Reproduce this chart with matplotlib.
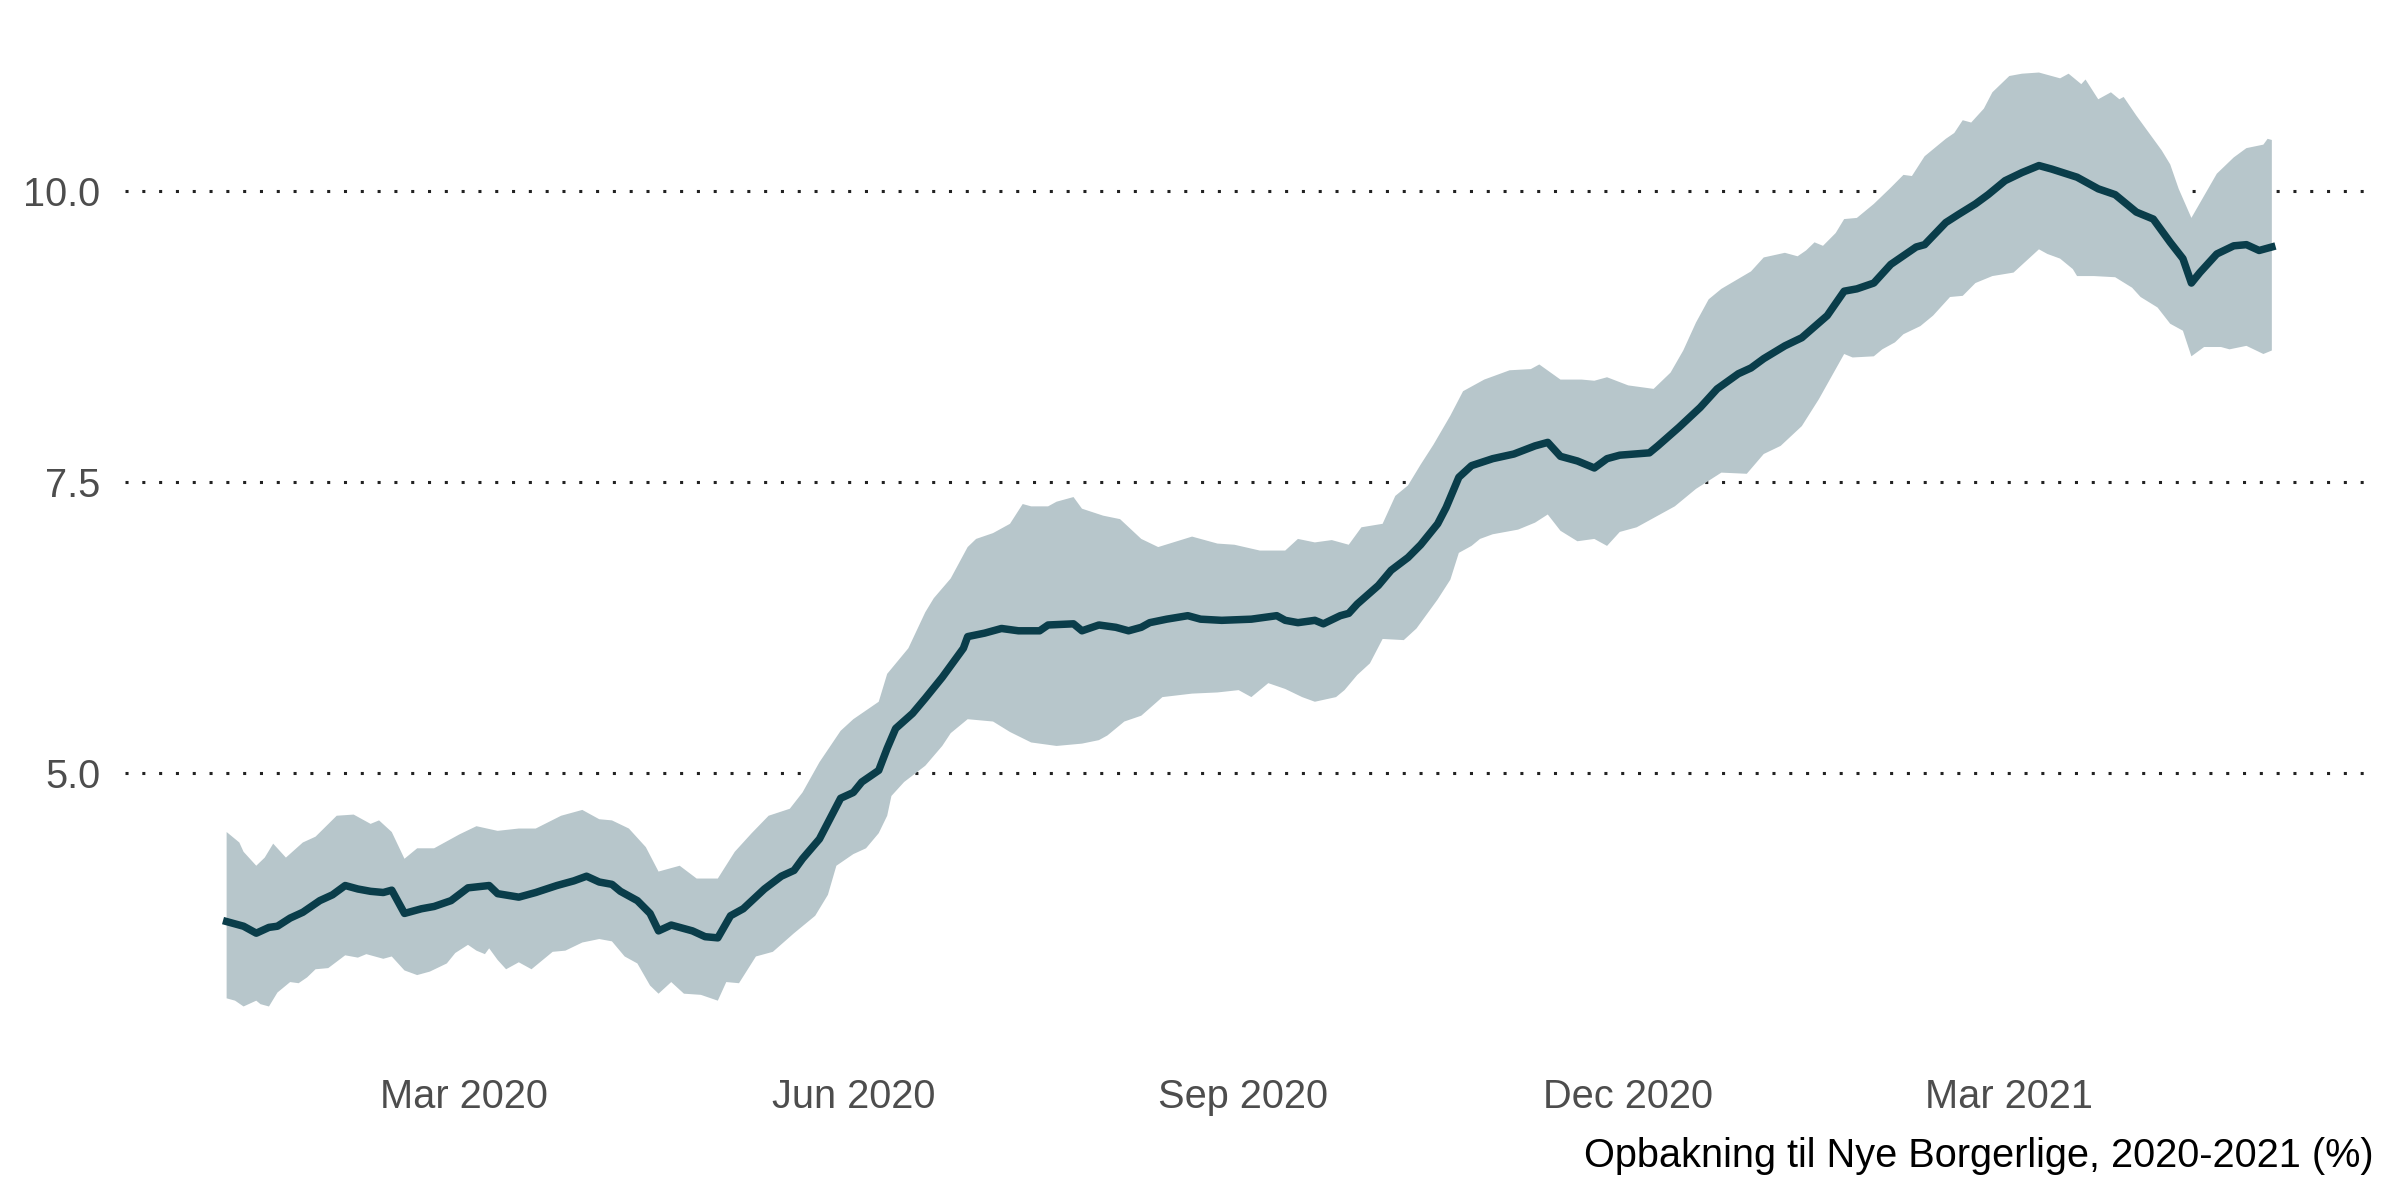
import numpy as np
import pandas as pd
import matplotlib
matplotlib.use("Agg")
import matplotlib.pyplot as plt
import matplotlib.dates as mdates

# mean support (%)
mean_dates = [
    "2020-01-05", "2020-01-09", "2020-01-12", "2020-01-15", "2020-01-17", "2020-01-20",
    "2020-01-23", "2020-01-27", "2020-01-30", "2020-02-02", "2020-02-05", "2020-02-08",
    "2020-02-11", "2020-02-13", "2020-02-16", "2020-02-20", "2020-02-23", "2020-02-27",
    "2020-03-02", "2020-03-07", "2020-03-09", "2020-03-14", "2020-03-18", "2020-03-23",
    "2020-03-27", "2020-03-30", "2020-04-02", "2020-04-05", "2020-04-07", "2020-04-11",
    "2020-04-14", "2020-04-16", "2020-04-19", "2020-04-24", "2020-04-27", "2020-04-30",
    "2020-05-03", "2020-05-06", "2020-05-11", "2020-05-15", "2020-05-18", "2020-05-20",
    "2020-05-24", "2020-05-29", "2020-06-01", "2020-06-03", "2020-06-07", "2020-06-09",
    "2020-06-11", "2020-06-15", "2020-06-18", "2020-06-22", "2020-06-24", "2020-06-27",
    "2020-06-28", "2020-07-02", "2020-07-06", "2020-07-10", "2020-07-15", "2020-07-17",
    "2020-07-23", "2020-07-25", "2020-07-29", "2020-08-02", "2020-08-05", "2020-08-08",
    "2020-08-10", "2020-08-14", "2020-08-19", "2020-08-22", "2020-08-27", "2020-09-03",
    "2020-09-09", "2020-09-11", "2020-09-14", "2020-09-18", "2020-09-20", "2020-09-24",
    "2020-09-26", "2020-09-28", "2020-10-03", "2020-10-06", "2020-10-10", "2020-10-13",
    "2020-10-17", "2020-10-19", "2020-10-22", "2020-10-25", "2020-10-30", "2020-11-04",
    "2020-11-09", "2020-11-12", "2020-11-15", "2020-11-19", "2020-11-23", "2020-11-26",
    "2020-11-29", "2020-12-06", "2020-12-08", "2020-12-13", "2020-12-18", "2020-12-22",
    "2020-12-27", "2020-12-30", "2021-01-02", "2021-01-07", "2021-01-11", "2021-01-17",
    "2021-01-21", "2021-01-24", "2021-01-28", "2021-02-01", "2021-02-07", "2021-02-09",
    "2021-02-14", "2021-02-17", "2021-02-21", "2021-02-24", "2021-02-28", "2021-03-04",
    "2021-03-08", "2021-03-11", "2021-03-17", "2021-03-22", "2021-03-26", "2021-03-31",
    "2021-04-04", "2021-04-08", "2021-04-11", "2021-04-13", "2021-04-15", "2021-04-19",
    "2021-04-23", "2021-04-26", "2021-04-29", "2021-05-02",
]
mean_vals = [
    3.72, 3.68, 3.62, 3.67, 3.68, 3.75,
    3.80, 3.90, 3.95, 4.03, 4.00, 3.98,
    3.97, 3.99, 3.79, 3.83, 3.85, 3.90,
    4.01, 4.03, 3.96, 3.93, 3.97, 4.03,
    4.07, 4.11, 4.06, 4.04, 3.98, 3.90,
    3.79, 3.64, 3.69, 3.64, 3.59, 3.58,
    3.77, 3.83, 4.00, 4.11, 4.16, 4.26,
    4.43, 4.78, 4.83, 4.92, 5.02, 5.21,
    5.38, 5.51, 5.64, 5.82, 5.92, 6.07,
    6.17, 6.20, 6.24, 6.22, 6.22, 6.27,
    6.28, 6.22, 6.27, 6.25, 6.22, 6.25,
    6.29, 6.32, 6.35, 6.32, 6.31, 6.32,
    6.35, 6.31, 6.29, 6.31, 6.28, 6.35,
    6.37, 6.45, 6.61, 6.74, 6.85, 6.96,
    7.14, 7.28, 7.54, 7.64, 7.70, 7.74,
    7.81, 7.84, 7.72, 7.68, 7.62, 7.70,
    7.73, 7.75, 7.81, 7.97, 8.14, 8.30,
    8.43, 8.48, 8.56, 8.67, 8.74, 8.93,
    9.14, 9.16, 9.21, 9.37, 9.52, 9.54,
    9.73, 9.80, 9.89, 9.97, 10.09, 10.16,
    10.22, 10.19, 10.12, 10.02, 9.97, 9.82,
    9.76, 9.56, 9.42, 9.21, 9.30, 9.46,
    9.53, 9.54, 9.49, 9.52,
]

# upper edge of the uncertainty band
upper_dates = [
    "2020-01-05", "2020-01-08", "2020-01-09", "2020-01-12", "2020-01-14", "2020-01-16",
    "2020-01-19", "2020-01-23", "2020-01-26", "2020-01-31", "2020-02-04", "2020-02-08",
    "2020-02-10", "2020-02-13", "2020-02-16", "2020-02-19", "2020-02-23", "2020-02-29",
    "2020-03-04", "2020-03-09", "2020-03-14", "2020-03-18", "2020-03-24", "2020-03-29",
    "2020-04-02", "2020-04-05", "2020-04-09", "2020-04-13", "2020-04-16", "2020-04-21",
    "2020-04-25", "2020-04-30", "2020-05-04", "2020-05-08", "2020-05-12", "2020-05-17",
    "2020-05-20", "2020-05-24", "2020-05-29", "2020-06-01", "2020-06-07", "2020-06-09",
    "2020-06-14", "2020-06-18", "2020-06-20", "2020-06-24", "2020-06-28", "2020-06-30",
    "2020-07-04", "2020-07-08", "2020-07-11", "2020-07-13", "2020-07-17", "2020-07-19",
    "2020-07-23", "2020-07-25", "2020-07-30", "2020-08-03", "2020-08-08", "2020-08-12",
    "2020-08-20", "2020-08-26", "2020-08-30", "2020-09-05", "2020-09-11", "2020-09-14",
    "2020-09-18", "2020-09-22", "2020-09-26", "2020-09-29", "2020-10-04", "2020-10-07",
    "2020-10-10", "2020-10-13", "2020-10-16", "2020-10-20", "2020-10-23", "2020-10-28",
    "2020-11-03", "2020-11-08", "2020-11-10", "2020-11-15", "2020-11-20", "2020-11-23",
    "2020-11-26", "2020-12-01", "2020-12-05", "2020-12-07", "2020-12-11", "2020-12-14",
    "2020-12-17", "2020-12-20", "2020-12-23", "2020-12-30", "2021-01-02", "2021-01-07",
    "2021-01-10", "2021-01-12", "2021-01-14", "2021-01-16", "2021-01-19", "2021-01-21",
    "2021-01-24", "2021-01-28", "2021-02-01", "2021-02-04", "2021-02-06", "2021-02-09",
    "2021-02-14", "2021-02-16", "2021-02-18", "2021-02-20", "2021-02-23", "2021-02-25",
    "2021-03-01", "2021-03-04", "2021-03-08", "2021-03-13", "2021-03-15", "2021-03-18",
    "2021-03-19", "2021-03-22", "2021-03-25", "2021-03-27", "2021-03-28", "2021-03-31",
    "2021-04-02", "2021-04-06", "2021-04-08", "2021-04-10", "2021-04-13", "2021-04-16",
    "2021-04-19", "2021-04-23", "2021-04-26", "2021-04-30", "2021-05-01", "2021-05-02",
]
upper_vals = [
    4.49, 4.40, 4.32, 4.20, 4.27, 4.39,
    4.27, 4.40, 4.45, 4.63, 4.64, 4.56,
    4.59, 4.49, 4.26, 4.35, 4.35, 4.47,
    4.54, 4.50, 4.52, 4.52, 4.63, 4.68,
    4.60, 4.59, 4.52, 4.36, 4.15, 4.20,
    4.09, 4.09, 4.32, 4.48, 4.63, 4.69,
    4.83, 5.09, 5.36, 5.46, 5.61, 5.85,
    6.07, 6.38, 6.50, 6.67, 6.94, 7.01,
    7.06, 7.14, 7.31, 7.29, 7.29, 7.33,
    7.37, 7.27, 7.21, 7.18, 7.01, 6.94,
    7.03, 6.97, 6.96, 6.91, 6.91, 7.01,
    6.98, 7.00, 6.96, 7.11, 7.14, 7.38,
    7.47, 7.65, 7.82, 8.07, 8.28, 8.38,
    8.46, 8.47, 8.51, 8.38, 8.38, 8.37,
    8.40, 8.33, 8.31, 8.30, 8.44, 8.63,
    8.87, 9.07, 9.16, 9.31, 9.43, 9.47,
    9.44, 9.49, 9.56, 9.53, 9.64, 9.76,
    9.77, 9.89, 10.03, 10.14, 10.13, 10.30,
    10.45, 10.50, 10.61, 10.59, 10.71, 10.85,
    10.99, 11.01, 11.02, 10.97, 11.01, 10.92,
    10.96, 10.79, 10.85, 10.79, 10.81, 10.65,
    10.55, 10.35, 10.23, 10.02, 9.77, 9.96,
    10.15, 10.29, 10.37, 10.40, 10.45, 10.44,
]

# lower edge of the uncertainty band
lower_dates = [
    "2020-01-05", "2020-01-07", "2020-01-09", "2020-01-12", "2020-01-13", "2020-01-15",
    "2020-01-17", "2020-01-20", "2020-01-22", "2020-01-24", "2020-01-26", "2020-01-29",
    "2020-02-02", "2020-02-05", "2020-02-07", "2020-02-11", "2020-02-13", "2020-02-16",
    "2020-02-19", "2020-02-22", "2020-02-26", "2020-02-28", "2020-03-02", "2020-03-04",
    "2020-03-06", "2020-03-07", "2020-03-09", "2020-03-11", "2020-03-14", "2020-03-17",
    "2020-03-22", "2020-03-25", "2020-03-29", "2020-04-02", "2020-04-05", "2020-04-08",
    "2020-04-11", "2020-04-14", "2020-04-16", "2020-04-19", "2020-04-22", "2020-04-26",
    "2020-04-30", "2020-05-02", "2020-05-05", "2020-05-09", "2020-05-13", "2020-05-18",
    "2020-05-23", "2020-05-26", "2020-05-28", "2020-06-01", "2020-06-04", "2020-06-07",
    "2020-06-09", "2020-06-10", "2020-06-13", "2020-06-18", "2020-06-22", "2020-06-24",
    "2020-06-28", "2020-07-04", "2020-07-08", "2020-07-13", "2020-07-19", "2020-07-25",
    "2020-07-29", "2020-07-31", "2020-08-04", "2020-08-08", "2020-08-13", "2020-08-20",
    "2020-08-26", "2020-08-31", "2020-09-03", "2020-09-07", "2020-09-11", "2020-09-15",
    "2020-09-18", "2020-09-23", "2020-09-25", "2020-09-28", "2020-10-01", "2020-10-04",
    "2020-10-09", "2020-10-12", "2020-10-17", "2020-10-20", "2020-10-22", "2020-10-25",
    "2020-10-27", "2020-10-30", "2020-11-05", "2020-11-09", "2020-11-12", "2020-11-15",
    "2020-11-19", "2020-11-23", "2020-11-26", "2020-11-29", "2020-12-03", "2020-12-07",
    "2020-12-12", "2020-12-17", "2020-12-23", "2020-12-29", "2021-01-02", "2021-01-06",
    "2021-01-11", "2021-01-15", "2021-01-19", "2021-01-21", "2021-01-23", "2021-01-28",
    "2021-01-30", "2021-02-02", "2021-02-04", "2021-02-08", "2021-02-11", "2021-02-15",
    "2021-02-18", "2021-02-21", "2021-02-25", "2021-03-02", "2021-03-05", "2021-03-08",
    "2021-03-10", "2021-03-13", "2021-03-16", "2021-03-17", "2021-03-21", "2021-03-26",
    "2021-03-30", "2021-04-01", "2021-04-05", "2021-04-08", "2021-04-11", "2021-04-13",
    "2021-04-16", "2021-04-20", "2021-04-22", "2021-04-26", "2021-04-30", "2021-05-02",
]
lower_vals = [
    3.06, 3.04, 2.99, 3.04, 3.01, 2.99,
    3.11, 3.20, 3.19, 3.24, 3.31, 3.32,
    3.43, 3.41, 3.44, 3.40, 3.42, 3.30,
    3.26, 3.29, 3.36, 3.45, 3.52, 3.47,
    3.44, 3.49, 3.39, 3.31, 3.37, 3.31,
    3.46, 3.47, 3.54, 3.57, 3.55, 3.42,
    3.36, 3.17, 3.10, 3.20, 3.10, 3.09,
    3.04, 3.20, 3.19, 3.42, 3.46, 3.62,
    3.77, 3.95, 4.20, 4.30, 4.35, 4.48,
    4.63, 4.80, 4.92, 5.06, 5.23, 5.34,
    5.46, 5.44, 5.35, 5.26, 5.23, 5.25,
    5.28, 5.32, 5.44, 5.49, 5.65, 5.68,
    5.69, 5.71, 5.65, 5.77, 5.72, 5.65,
    5.61, 5.65, 5.71, 5.84, 5.94, 6.15,
    6.14, 6.24, 6.49, 6.66, 6.89, 6.95,
    7.01, 7.05, 7.09, 7.15, 7.22, 7.08,
    6.99, 7.01, 6.95, 7.07, 7.11, 7.19,
    7.29, 7.44, 7.58, 7.57, 7.74, 7.81,
    7.98, 8.21, 8.47, 8.60, 8.57, 8.58,
    8.64, 8.70, 8.77, 8.84, 8.93, 9.09,
    9.10, 9.21, 9.27, 9.30, 9.40, 9.50,
    9.46, 9.42, 9.33, 9.27, 9.27, 9.26,
    9.17, 9.09, 9.00, 8.86, 8.80, 8.58,
    8.66, 8.66, 8.64, 8.67, 8.60, 8.63,
]

y_ticks = [5.0, 7.5, 10.0]
x_ticks = ["2020-03-01", "2020-06-01", "2020-09-01", "2020-12-01", "2021-03-01"]
caption = "Opbakning til Nye Borgerlige, 2020-2021 (%)"

line_col = "#0a3d4a"
band_col = "#b7c6cb"

plt.rcParams['font.family'] = ['Liberation Sans', 'DejaVu Sans']

md = pd.to_datetime(mean_dates)
ud = pd.to_datetime(upper_dates)
ld = pd.to_datetime(lower_dates)

fig = plt.figure(figsize=(12, 6), dpi=200)
ax = fig.add_axes([125 / 2400, 147 / 1200, 2240 / 2400, 1027 / 1200])

# band as one polygon: upper edge forward, lower edge back
band_x = np.concatenate([mdates.date2num(ud), mdates.date2num(ld)[::-1]])
band_y = np.concatenate([upper_vals, lower_vals[::-1]])
ax.fill(band_x, band_y, color=band_col, lw=0, zorder=1)
ax.plot(md, mean_vals, color=line_col, lw=2.7, solid_joinstyle='round', zorder=3)

for t in y_ticks:
    ax.axhline(t, color="#222222", lw=1.1, ls=(0, (1, 4.5)), zorder=0)

ax.set_xlim(pd.Timestamp("2019-12-12"), pd.Timestamp("2021-05-24"))
ax.set_ylim(2.59, 11.42)

ax.set_yticks(y_ticks)
ax.set_yticklabels([f"{t:.1f}" for t in y_ticks])
ax.set_xticks(pd.to_datetime(x_ticks))
ax.xaxis.set_major_formatter(mdates.DateFormatter("%b %Y"))

ax.tick_params(axis='both', length=0, labelsize=14.3, colors="#4d4d4d")
ax.tick_params(axis='x', pad=9)
ax.tick_params(axis='y', pad=9)
for s in ax.spines.values():
    s.set_visible(False)

fig.text(2374 / 2400, 33 / 1200, caption, ha='right', va='baseline',
         fontsize=14.3, color="black")

fig.savefig("out.png", dpi=200, facecolor="white")
